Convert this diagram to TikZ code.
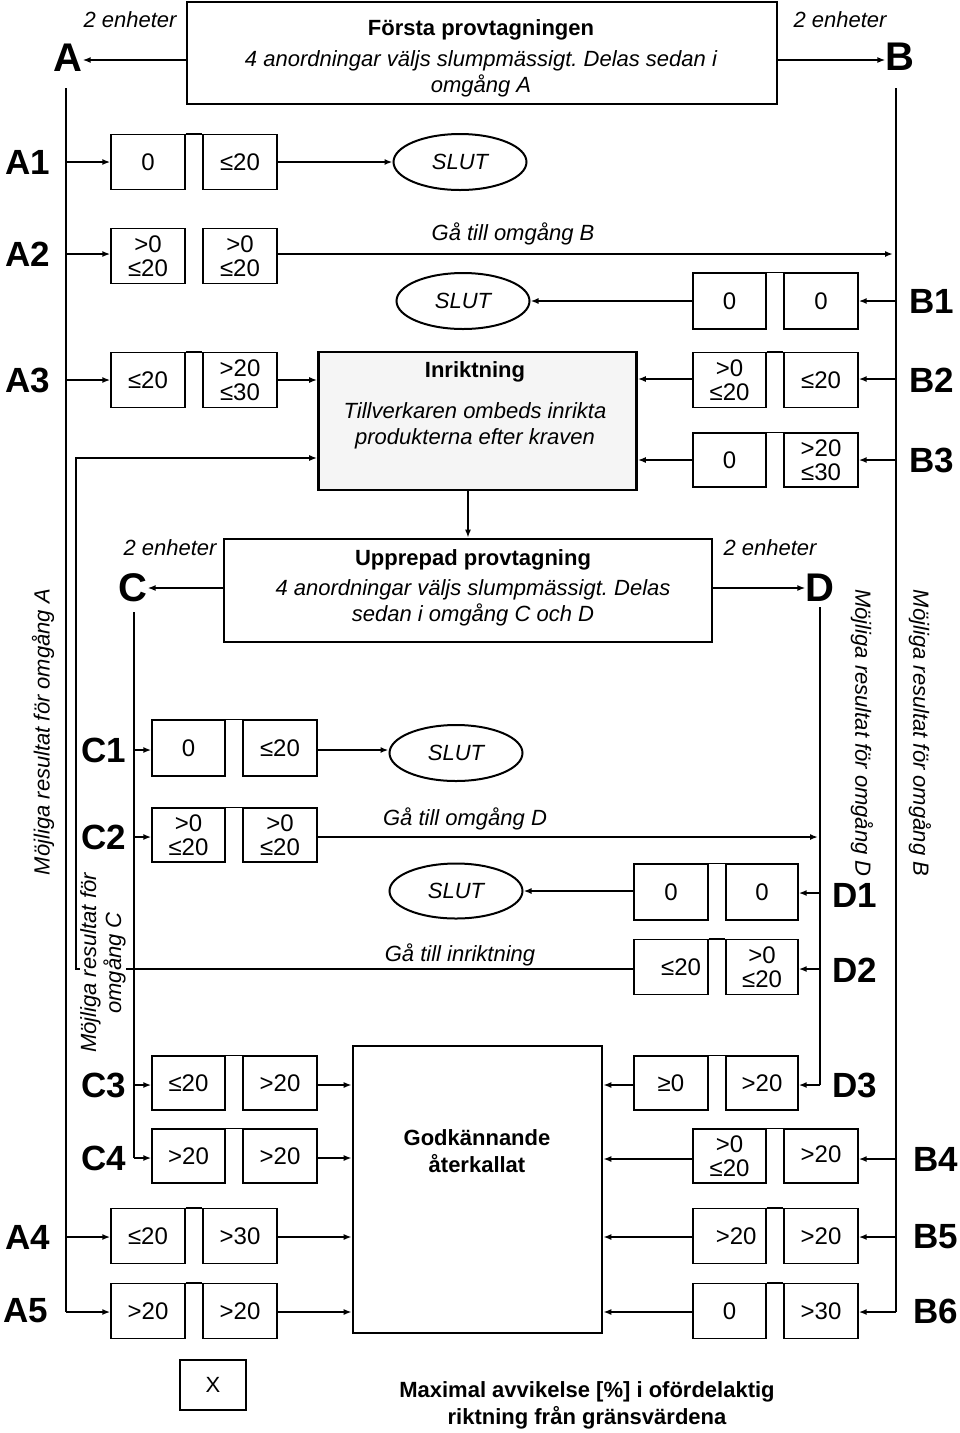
\documentclass[tikz,border=0pt]{standalone}
\usepackage{fontspec}
\setmainfont{Liberation Sans}
\usetikzlibrary{arrows.meta,shapes.geometric}
\frenchspacing
\begin{document}
\begin{tikzpicture}[x=1pt,y=-1pt,
 cell/.style={draw,line width=1.4pt,minimum width=74pt,minimum height=55pt,inner sep=1pt,align=center,font=\fontsize{24}{24}\selectfont},
 bigbox/.style={draw,line width=2.6pt,inner sep=0pt},
 slut/.style={draw,ellipse,line width=2pt,minimum width=133pt,minimum height=56pt,inner sep=0pt,font=\fontsize{22}{24}\selectfont\itshape},
 big/.style={font=\fontsize{40}{40}\selectfont\bfseries,inner sep=0pt},
 lab/.style={font=\fontsize{35}{35}\selectfont\bfseries,inner sep=0pt},
 itx/.style={font=\fontsize{22}{26}\selectfont\itshape,inner sep=0pt,align=center},
 btx/.style={font=\fontsize{22}{27}\selectfont\bfseries,inner sep=0pt,align=center},
 rot/.style={font=\fontsize{22}{25}\selectfont\itshape,inner sep=1pt,align=center},
 ln/.style={line width=1.6pt},
 arr/.style={line width=1.6pt,-{Latex[length=8pt,width=6pt]}},
 jn/.style={line width=1.4pt}
]
\useasboundingbox (0,0) rectangle (960,1433);

% ---------- top box ----------
\node[bigbox,minimum width=590pt,minimum height=102pt] (top) at (482,53) {};
\node[btx] (toptitle) at (481,30) {Första provtagningen};
\node[itx] (toptext) at (481,74) {4 anordningar väljs slumpmässigt. Delas sedan i\\omgång A};
\node[itx] (enA) at (130,20) {2 enheter};
\node[itx] (enB) at (840,20) {2 enheter};
\node[big] (A) at (68,58) {A};
\node[big] (B) at (900,57) {B};
\draw[arr] (top.west |- 0,60) -- (A.east |- 0,60);
\draw[arr] (top.east |- 0,60) -- (B.west |- 0,60);

% ---------- trunk lines ----------
\coordinate (aTop) at (66,88);
\coordinate (aBot) at (66,1312);
\coordinate (bTop) at (896,88);
\coordinate (bBot) at (896,1312);
\draw[ln] (aTop) -- (aBot);
\draw[ln] (bTop) -- (bBot);

% ---------- A rows ----------
\node[lab] (A1) at (28,162) {A1};
\node[lab] (A2) at (28,254) {A2};
\node[lab] (A3) at (28,380) {A3};
\node[lab] (A4) at (28,1237) {A4};
\node[lab] (A5) at (26,1311) {A5};

\node[cell] (a1l) at (148,162) {0};
\node[cell] (a1r) at (240,162) {≤20};
\node[cell] (a2l) at (148,256) {>0\\≤20};
\node[cell] (a2r) at (240,256) {>0\\≤20};
\node[cell] (a3l) at (148,380) {≤20};
\node[cell] (a3r) at (240,380) {>20\\≤30};
\node[cell] (a4l) at (148,1236) {≤20};
\node[cell] (a4r) at (240,1236) {>30};
\node[cell] (a5l) at (148,1311) {>20};
\node[cell] (a5r) at (240,1311) {>20};
\draw[jn] (a1l.north east) -- (a1r.north west);
\draw[jn] (a3l.north east) -- (a3r.north west);
\draw[jn] (a4l.north east) -- (a4r.north west);
\draw[jn] (a5l.north east) -- (a5r.north west);

\draw[arr] (aTop |- a1l) -- (a1l.west);
\draw[arr] (aTop |- 0,254) -- (a2l.west |- 0,254);
\draw[arr] (aTop |- a3l) -- (a3l.west);
\draw[arr] (aTop |- 0,1237) -- (a4l.west |- 0,1237);
\draw[arr] (aBot) -- (a5l.west |- aBot);

% ---------- SLUT ellipses ----------
\node[slut] (s1) at (460,162) {SLUT};
\node[slut] (s2) at (463,301) {SLUT};
\node[slut] (s3) at (456,753) {SLUT};
\node[slut,minimum height=55pt] (s4) at (456,891) {SLUT};

\draw[arr] (a1r.east) -- (s1.west);
\coordinate (a2end) at (893,254);
\draw[arr] (a2r.east |- a2end) -- (a2end);
\node[itx] (gaB) at (513,234) {Gå till omgång B};

% ---------- B rows ----------
\node[lab] (B1) at (932,301) {B1};
\node[lab] (B2) at (932,380) {B2};
\node[lab] (B3) at (932,460) {B3};
\node[lab] (B4) at (936,1159) {B4};
\node[lab] (B5) at (936,1237) {B5};
\node[lab] (B6) at (936,1311) {B6};

\node[cell,minimum width=73pt,minimum height=56pt] (b1l) at (729.5,301) {0};
\node[cell,minimum width=74pt,minimum height=56pt] (b1r) at (821,301) {0};
\node[cell,minimum width=73pt] (b2l) at (729.5,380) {>0\\≤20};
\node[cell,minimum width=74pt] (b2r) at (821,380) {~\\[-6pt]≤20};
\node[cell,minimum width=73pt,minimum height=54pt] (b3l) at (729.5,460) {0};
\node[cell,minimum width=74pt,minimum height=54pt] (b3r) at (821,460) {>20\\≤30};
\node[cell,minimum width=73pt,minimum height=54pt] (b4l) at (729.5,1156) {>0\\≤20};
\node[cell,minimum width=74pt,minimum height=54pt] (b4r) at (821,1156) {~\\[-10pt]>20};
\node[cell,minimum width=73pt] (b5l) at (729.5,1236) {\ \ >20};
\node[cell,minimum width=74pt] (b5r) at (821,1236) {>20};
\node[cell,minimum width=73pt] (b6l) at (729.5,1311) {0};
\node[cell,minimum width=74pt] (b6r) at (821,1311) {>30};
\foreach \r in {1,2,3,4,5,6}{\draw[jn] (b\r l.north east) -- (b\r r.north west);}

\draw[arr] (bTop |- b1r) -- (b1r.east);
\draw[arr] (bTop |- 0,379) -- (b2r.east |- 0,379);
\draw[arr] (bTop |- b3r) -- (b3r.east);
\draw[arr] (bTop |- 0,1159) -- (b4r.east |- 0,1159);
\draw[arr] (bTop |- 0,1237) -- (b5r.east |- 0,1237);
\draw[arr] (bBot) -- (b6r.east |- bBot);
\draw[arr] (b1l.west) -- (s2.east);

% ---------- Inriktning ----------
\node[bigbox,fill=black!4,minimum width=318pt,minimum height=138pt] (inr) at (477.5,421) {};
\node[btx] (inrt) at (475,372) {Inriktning};
\node[itx] (inrx) at (475,426) {Tillverkaren ombeds inrikta\\produkterna efter kraven};
\draw[arr] (a3r.east) -- (inr.west |- a3r);
\draw[arr] (b2l.west |- 0,379) -- (inr.east |- 0,379);
\draw[arr] (b3l.west) -- (inr.east |- b3l);

% ---------- Upprepad provtagning ----------
\node[bigbox,minimum width=488pt,minimum height=103pt] (upp) at (468,590.5) {};
\node[btx] (uppt) at (473,560) {Upprepad provtagning};
\node[itx] (uppx) at (473,603) {4 anordningar väljs slumpmässigt. Delas\\sedan i omgång C och D};
\draw[arr] (inr.south -| upp.north) -- (upp.north);
\node[itx] (enC) at (170,548) {2 enheter};
\node[itx] (enD) at (770,548) {2 enheter};
\node[big] (C) at (133,588) {C};
\node[big] (D) at (820,588) {D};
\draw[arr] (upp.west |- 0,588) -- (C.east |- 0,588);
\draw[arr] (upp.east |- 0,588) -- (D.west |- 0,588);

\coordinate (cTop) at (134,612);
\coordinate (cBot) at (134,1158);
\coordinate (dTop) at (820,607);
\coordinate (dBot) at (820,1085);
\draw[ln] (cTop) -- (cBot);
\draw[ln] (dTop) -- (dBot);

% ---------- C rows ----------
\node[lab] (C1) at (104,750) {C1};
\node[lab] (C2) at (104,837) {C2};
\node[lab] (C3) at (104,1085) {C3};
\node[lab] (C4) at (104,1158) {C4};

\node[cell,minimum width=73pt,minimum height=56pt] (c1l) at (188.5,748) {0};
\node[cell,minimum width=74pt,minimum height=56pt] (c1r) at (280,748) {≤20};
\node[cell,minimum width=73pt,minimum height=54pt] (c2l) at (188.5,835) {>0\\≤20};
\node[cell,minimum width=74pt,minimum height=54pt] (c2r) at (280,835) {>0\\≤20};
\node[cell,minimum width=73pt,minimum height=54pt] (c3l) at (188.5,1083) {≤20};
\node[cell,minimum width=74pt,minimum height=54pt] (c3r) at (280,1083) {>20};
\node[cell,minimum width=73pt,minimum height=54pt] (c4l) at (188.5,1156) {>20};
\node[cell,minimum width=74pt,minimum height=54pt] (c4r) at (280,1156) {>20};
\foreach \r in {1,2,3,4}{\draw[jn] (c\r l.north east) -- (c\r r.north west);}

\draw[arr] (cTop |- 0,750) -- (c1l.west |- 0,750);
\draw[arr] (cTop |- 0,837) -- (c2l.west |- 0,837);
\draw[arr] (cTop |- 0,1085) -- (c3l.west |- 0,1085);
\draw[arr] (cBot) -- (c4l.west |- cBot);
\draw[arr] (c1r.east |- 0,750) -- (s3.west |- 0,750);
\coordinate (c2end) at (818,837);
\draw[arr] (c2r.east |- c2end) -- (c2end);
\node[itx] (gaD) at (465,819) {Gå till omgång D};

% ---------- D rows ----------
\node[lab] (D1) at (855,895) {D1};
\node[lab] (D2) at (855,970) {D2};
\node[lab] (D3) at (855,1085) {D3};

\node[cell,minimum width=74pt,minimum height=56pt] (d1l) at (671,892) {0};
\node[cell,minimum width=72pt,minimum height=56pt] (d1r) at (762,892) {0};
\node[cell,minimum width=74pt] (d2l) at (671,967) {~\\[-6pt]\ \ \ ≤20};
\node[cell,minimum width=72pt] (d2r) at (762,967) {>0\\≤20};
\node[cell,minimum width=74pt,minimum height=54pt] (d3l) at (671,1083) {≥0};
\node[cell,minimum width=72pt,minimum height=54pt] (d3r) at (762,1083) {>20};
\foreach \r in {1,2,3}{\draw[jn] (d\r l.north east) -- (d\r r.north west);}

\draw[arr] (dTop |- 0,893) -- (d1r.east |- 0,893);
\draw[arr] (dTop |- 0,969) -- (d2r.east |- 0,969);
\draw[arr] (dBot) -- (d3r.east |- dBot);
\draw[arr] (d1l.west |- 0,891) -- (s4.east);

% ---------- return to Inriktning ----------
\coordinate (ret1) at (76,969);
\coordinate (ret2) at (76,458);
\draw[arr] (d2l.west |- ret1) -- (ret1) -- (ret2) -- (ret2 -| inr.west);
\node[itx] (gaI) at (460,955) {Gå till inriktning};

% ---------- Godkännande ----------
\node[bigbox,minimum width=249pt,minimum height=287pt] (god) at (477.5,1189.5) {};
\node[btx] (godt) at (477,1151) {Godkännande\\återkallat};
\draw[arr] (c3r.east |- 0,1085) -- (god.west |- 0,1085);
\draw[arr] (c4r.east |- 0,1158) -- (god.west |- 0,1158);
\draw[arr] (a4r.east |- 0,1237) -- (god.west |- 0,1237);
\draw[arr] (a5r.east |- 0,1312) -- (god.west |- 0,1312);
\draw[arr] (d3l.west |- 0,1085) -- (god.east |- 0,1085);
\draw[arr] (b4l.west |- 0,1159) -- (god.east |- 0,1159);
\draw[arr] (b5l.west |- 0,1237) -- (god.east |- 0,1237);
\draw[arr] (b6l.west |- 0,1312) -- (god.east |- 0,1312);

% ---------- rotated labels ----------
\node[rot,rotate=90] (rA) at (43,732) {Möjliga resultat för omgång A};
\node[rot,rotate=-90] (rB) at (920,733) {Möjliga resultat för omgång B};
\node[rot,rotate=-90] (rD) at (862,733) {Möjliga resultat för omgång D};
\node[rot,rotate=90,fill=white,inner sep=0pt] (rC) at (103,963) {Möjliga resultat för\\omgång C};

% ---------- legend ----------
\node[draw,line width=1.4pt,minimum width=66pt,minimum height=50pt,font=\fontsize{22}{22}\selectfont] (leg) at (213,1385) {X\\[8pt]};
\node[btx] (legt) at (587,1405) {Maximal avvikelse [\%] i ofördelaktig\\riktning från gränsvärdena};
\end{tikzpicture}
\end{document}
